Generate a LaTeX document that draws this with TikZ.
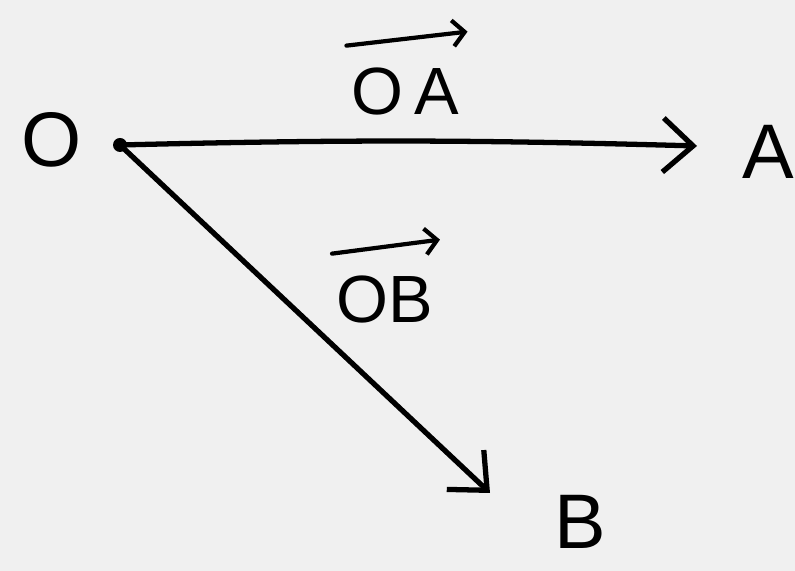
\documentclass[tikz,border=0pt]{standalone}
\usepackage{fontspec}
\setmainfont{Liberation Sans}
\usetikzlibrary{arrows.meta}
\begin{document}
\begin{tikzpicture}[x=0.01cm,y=-0.01cm,
  pen/.style={line width=1.5pt,line cap=round,line join=round,black},
  vec/.style={pen,-{Straight Barb[length=3mm,width=5.4mm,line width=1.5pt]}},
  over/.style={line width=1.2pt,line cap=round,-{Straight Barb[length=1.2mm,width=2.6mm,line width=1.2pt]}},
  big/.style={font=\fontsize{22}{26}\selectfont,inner sep=0pt},
  lab/.style={font=\fontsize{19}{22}\selectfont,inner sep=0pt}]
  \fill[fill={rgb,255:red,240;green,240;blue,240}] (0,0) rectangle (795,571);
  \useasboundingbox (0,0) rectangle (795,571);
  \node[big] (O) at (52,140) {O};
  \node[big] (A) at (768,152) {A};
  \node[big] (B) at (580,522) {B};
  \coordinate (o) at (120,145);
  \fill (o) circle (7);
  \coordinate (tipA) at (697,146);
  \coordinate (tipB) at (490,493);
  \draw[vec] (o) to[bend left=1.5] (tipA);
  \draw[vec] (o) -- (tipB);
  \node[lab] (OA) at (405,92) {O\,A};
  \node[lab] (OB) at (385,300) {OB};
  \draw[over] ([shift={(-4,-22)}]OA.north west) -- ([shift={(8,-36)}]OA.north east);
  \draw[over] ([shift={(-4,-22)}]OB.north west) -- ([shift={(6,-36)}]OB.north east);
\end{tikzpicture}
\end{document}
